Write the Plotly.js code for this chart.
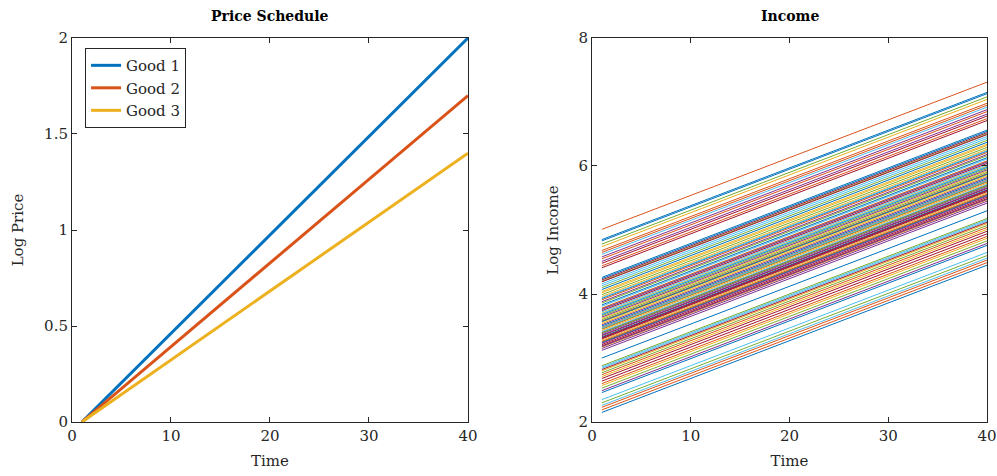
<!DOCTYPE html>
<html>
<head>
<meta charset="utf-8">
<script src="https://cdn.plot.ly/plotly-3.0.1.min.js"></script>
<style>
  html, body { margin: 0; padding: 0; background: #ffffff; }
  #chart { width: 997px; height: 476px; }
</style>
</head>
<body>
<div id="chart"></div>
<script>
// MATLAB default colour order
const LINE_COLORS = [
  "#0072BD", // blue
  "#D95319", // orange
  "#EDB120", // yellow
  "#7E2F8E", // purple
  "#77AC30", // green
  "#4DBEEE", // cyan
  "#A2142F", // maroon
];

// ── Price schedule (log price at t=1 and t=40) ─────────────────────────────
const priceTime = [1, 40];
const goodNames = ["Good 1", "Good 2", "Good 3"];
const good1 = [0, 2.0];
const good2 = [0, 1.7];
const good3 = [0, 1.4];

// ── Income paths (log income at t=1 and t=40, one entry per household) ─────
const incomeTime = [1, 40];
const incomeStart = [
  4.85, 5.01, 3.56, 3.31, 2.77, 3.72, 2.68,
  3.00, 3.45, 4.74, 3.88, 4.78, 2.26, 3.19,
  2.15, 2.19, 3.62, 4.51, 3.66, 4.62, 3.40,
  4.83, 2.23, 3.28, 3.52, 2.30, 3.77, 4.41,
  3.93, 4.68, 2.57, 3.15, 3.99, 2.35, 3.35,
  4.24, 3.48, 3.70, 4.58, 3.25, 2.84, 3.21,
  2.46, 2.60, 4.04, 3.38, 4.20, 3.81, 2.64,
  3.24, 4.65, 3.43, 3.12, 2.53, 4.16, 3.74,
  4.26, 3.58, 2.71, 2.49, 3.46, 3.94, 4.48,
  3.68, 4.44, 2.80, 3.64, 4.10, 2.86, 3.30,
  3.83, 4.55, 3.17, 3.36, 3.60, 4.13, 2.82,
  3.50, 2.74, 4.02, 3.23, 3.86, 3.41, 4.22,
  3.33, 3.91, 3.54, 3.76, 2.88, 3.47, 4.19,
  4.07, 3.26, 3.96, 3.18, 3.39, 3.69, 3.32,
  3.57, 3.78,
];
const incomeEnd = [
  7.15, 7.31, 5.86, 5.61, 5.07, 6.02, 4.98,
  5.30, 5.75, 7.04, 6.18, 7.08, 4.56, 5.49,
  4.45, 4.49, 5.92, 6.81, 5.96, 6.92, 5.70,
  7.13, 4.53, 5.58, 5.82, 4.60, 6.07, 6.71,
  6.23, 6.98, 4.87, 5.45, 6.29, 4.65, 5.65,
  6.54, 5.78, 6.00, 6.88, 5.55, 5.14, 5.51,
  4.76, 4.90, 6.34, 5.68, 6.50, 6.11, 4.94,
  5.54, 6.95, 5.73, 5.42, 4.83, 6.46, 6.04,
  6.56, 5.88, 5.01, 4.79, 5.76, 6.24, 6.78,
  5.98, 6.74, 5.10, 5.94, 6.40, 5.16, 5.60,
  6.13, 6.85, 5.47, 5.66, 5.90, 6.43, 5.12,
  5.80, 5.04, 6.32, 5.53, 6.16, 5.71, 6.52,
  5.63, 6.21, 5.84, 6.06, 5.18, 5.77, 6.49,
  6.37, 5.56, 6.26, 5.48, 5.69, 5.99, 5.62,
  5.87, 6.08,
];

const priceTicks = [0, 0.5, 1, 1.5, 2];
const priceTickText = ["0", "0.5", "1", "1.5", "2"];
const incomeTicks = [2, 4, 6, 8];
const timeTicks = [0, 10, 20, 30, 40];

const FONT = "'DejaVu Serif', 'Liberation Serif', serif";
const AXIS_COLOR = "#262626";

// ── Traces ─────────────────────────────────────────────────────────────────
const traces = [];

[good1, good2, good3].forEach((g, i) => {
  traces.push({
    x: priceTime,
    y: g,
    type: "scatter",
    mode: "lines",
    name: goodNames[i],
    line: { color: LINE_COLORS[i], width: 3 },
    xaxis: "x",
    yaxis: "y",
  });
});

for (let i = 0; i < incomeStart.length; i++) {
  traces.push({
    x: incomeTime,
    y: [incomeStart[i], incomeEnd[i]],
    type: "scatter",
    mode: "lines",
    line: { color: LINE_COLORS[i % LINE_COLORS.length], width: 1 },
    showlegend: false,
    xaxis: "x2",
    yaxis: "y2",
  });
}

// ── Layout ─────────────────────────────────────────────────────────────────
function axisBase() {
  return {
    showgrid: false,
    zeroline: false,
    showline: true,
    linecolor: AXIS_COLOR,
    linewidth: 1,
    mirror: "ticks",
    ticks: "inside",
    ticklen: 5,
    tickcolor: AXIS_COLOR,
    tickfont: { family: FONT, size: 15, color: AXIS_COLOR },
  };
}

const yDomain = [0.1134, 0.9202];

const layout = {
  width: 997,
  height: 476,
  margin: { t: 0, r: 0, b: 0, l: 0 },
  paper_bgcolor: "#ffffff",
  plot_bgcolor: "#ffffff",
  font: { family: FONT, size: 15, color: AXIS_COLOR },
  showlegend: true,
  legend: {
    x: 0.0853,
    y: 0.899,
    xanchor: "left",
    yanchor: "top",
    bordercolor: AXIS_COLOR,
    borderwidth: 1,
    bgcolor: "#ffffff",
    font: { family: FONT, size: 15, color: AXIS_COLOR },
    tracegroupgap: 0,
  },
  xaxis: {
    ...axisBase(),
    domain: [0.0722, 0.4694],
    anchor: "y",
    range: [0, 40],
    tickvals: timeTicks,
    title: { text: "Time", font: { family: FONT, size: 15 }, standoff: 11 },
  },
  yaxis: {
    ...axisBase(),
    domain: yDomain,
    anchor: "x",
    range: [0, 2],
    tickvals: priceTicks,
    ticktext: priceTickText,
    title: { text: "Log Price", font: { family: FONT, size: 15 }, standoff: 16 },
  },
  xaxis2: {
    ...axisBase(),
    domain: [0.5938, 0.99],
    anchor: "y2",
    range: [0, 40],
    tickvals: timeTicks,
    title: { text: "Time", font: { family: FONT, size: 15 }, standoff: 11 },
  },
  yaxis2: {
    ...axisBase(),
    domain: yDomain,
    anchor: "x2",
    range: [2, 8],
    tickvals: incomeTicks,
    title: { text: "Log Income", font: { family: FONT, size: 15 }, standoff: 16 },
  },
  annotations: [
    {
      text: "<b>Price Schedule</b>",
      xref: "paper", yref: "paper",
      x: 0.2708, y: 0.966,
      xanchor: "center", yanchor: "middle",
      showarrow: false,
      font: { family: FONT, size: 14, color: "#000000" },
    },
    {
      text: "<b>Income</b>",
      xref: "paper", yref: "paper",
      x: 0.7919, y: 0.966,
      xanchor: "center", yanchor: "middle",
      showarrow: false,
      font: { family: FONT, size: 14, color: "#000000" },
    },
  ],
};

Plotly.newPlot("chart", traces, layout, { displayModeBar: false, staticPlot: true });
</script>
</body>
</html>
